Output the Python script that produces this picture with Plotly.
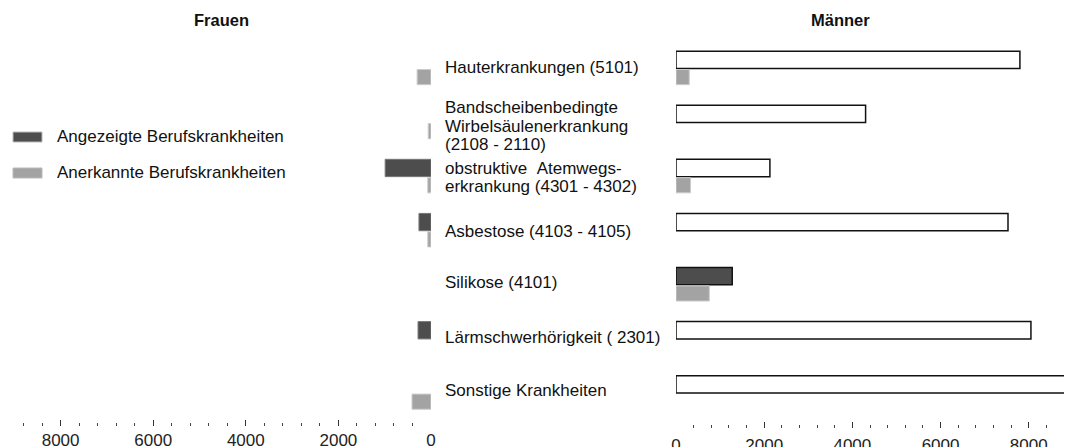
import plotly.graph_objects as go

categories = [
    "Hauterkrankungen (5101)",
    "Bandscheibenbedingte<br>Wirbelsäulenerkrankung<br>(2108 - 2110)",
    "obstruktive\u00a0\u00a0Atemwegs-<br>erkrankung (4301 - 4302)",
    "Asbestose (4103 - 4105)",
    "Silikose (4101)",
    "Lärmschwerhörigkeit ( 2301)",
    "Sonstige Krankheiten",
]
# Frauen (None = not shown in the picture)
frauen_angezeigt = [None, None, 990, 260, None, 280, None]
frauen_anerkannt = [300, 60, 70, 70, None, None, 410]
# Männer
maenner_angezeigt = [7800, 4300, 2130, 7530, 1275, 8050, 8830]
maenner_anerkannt = [300, None, 330, None, 755, None, None]

series_names = ["Angezeigte Berufskrankheiten", "Anerkannte Berufskrankheiten"]
panel_titles = ["Frauen", "Männer"]
tick_vals = [0, 2000, 4000, 6000, 8000]

DARK = "#4d4d4d"
GRAY = "#a3a3a3"
FONT = "Liberation Sans, Arial, Helvetica, sans-serif"
W, H = 1067, 447
OFF = 0  # body margin removed via post_script

male_ang_fill = ["white", "white", "white", "white", DARK, "white", "white"]

fig = go.Figure()

# left panel (Frauen)
fig.add_trace(go.Bar(
    y=categories, x=frauen_angezeigt, orientation="h", name=series_names[0],
    xaxis="x", yaxis="y", width=0.32, offset=-0.33, cliponaxis=False,
    marker=dict(color=DARK, line=dict(color="#777777", width=1)), showlegend=False))
fig.add_trace(go.Bar(
    y=categories, x=frauen_anerkannt, orientation="h", name=series_names[1],
    xaxis="x", yaxis="y", width=0.28, offset=0.01, cliponaxis=False,
    marker=dict(color=GRAY, line=dict(color="#cccccc", width=1)), showlegend=False))
# right panel (Männer)
fig.add_trace(go.Bar(
    y=categories, x=maenner_angezeigt, orientation="h", name=series_names[0],
    xaxis="x2", yaxis="y", width=0.32, offset=-0.33, cliponaxis=False,
    marker=dict(color=male_ang_fill, line=dict(color="#111111", width=1.5)), showlegend=False))
fig.add_trace(go.Bar(
    y=categories, x=maenner_anerkannt, orientation="h", name=series_names[1],
    xaxis="x2", yaxis="y", width=0.28, offset=0.01, cliponaxis=False,
    marker=dict(color=GRAY, line=dict(color="#cccccc", width=1)), showlegend=False))

def px_x(p):
    return (p - OFF) / W

def px_y(p):
    return (H - (p - OFF)) / H

tickfont = dict(family=FONT, size=17, color="#222222")
common_x = dict(
    showgrid=False, zeroline=False, showline=False, automargin=False,
    tickvals=tick_vals, ticks="inside", ticklen=6, tickwidth=1.3, tickcolor="#333333",
    minor=dict(dtick=400, ticks="inside", ticklen=3.5, tickwidth=1, tickcolor="#444444"),
    tickfont=tickfont, fixedrange=True,
)

fig.update_layout(
    width=W, height=H, template="none",
    paper_bgcolor="white", plot_bgcolor="rgba(0,0,0,0)",
    margin=dict(l=0, r=0, t=0, b=0),
    barmode="overlay",
    xaxis=dict(domain=[px_x(20), px_x(431)], range=[8877, 0], anchor="y",
               ticklabelstandoff=2, **common_x),
    xaxis2=dict(domain=[px_x(676), px_x(1064)], range=[0, 8800], anchor="free",
                position=px_y(428), ticklabelstandoff=5, **common_x),
    yaxis=dict(domain=[px_y(426), px_y(20.3)], range=[6.6, -0.9], type="category",
               showticklabels=False, showgrid=False, zeroline=False, showline=False,
               ticks="", automargin=False, fixedrange=True),
    font=dict(family=FONT),
)

annotations = []
# panel titles
for title, cx in zip(panel_titles, [221, 840]):
    annotations.append(dict(text="<b>%s</b>" % title, x=px_x(cx), y=px_y(20), xref="paper", yref="paper",
                            showarrow=False, xanchor="center", yanchor="middle",
                            font=dict(family=FONT, size=16.5, color="#111111")))
# category labels
label_shift = [1, -3, 0, 0, 3, 2, 3]
line_gap = 18.3
for cat, sh in zip(categories, label_shift):
    lines = cat.split("<br>")
    n = len(lines)
    for i, ln in enumerate(lines):
        annotations.append(dict(text=ln, x=px_x(443), y=cat, xref="paper", yref="y",
                                showarrow=False, xanchor="left", yanchor="middle",
                                yshift=((n - 1) / 2 - i) * line_gap + sh,
                                font=dict(family=FONT, size=17, color="#111111")))
# legend
shapes = []
for name, col, cy in zip(series_names, [DARK, GRAY], [137, 173]):
    shapes.append(dict(type="rect", xref="paper", yref="paper",
                       x0=px_x(13), x1=px_x(42), y0=px_y(cy + 5), y1=px_y(cy - 5),
                       fillcolor=col, line=dict(color="#bbbbbb", width=1)))
    annotations.append(dict(text=name, x=px_x(55), y=px_y(cy), xref="paper", yref="paper",
                            showarrow=False, xanchor="left", yanchor="middle",
                            font=dict(family=FONT, size=17, color="#111111")))

fig.update_layout(annotations=annotations, shapes=shapes)
fig.write_html("out.html", config={"displayModeBar": False},
               post_script="document.body.style.margin='0px';document.body.style.overflow='hidden';")
